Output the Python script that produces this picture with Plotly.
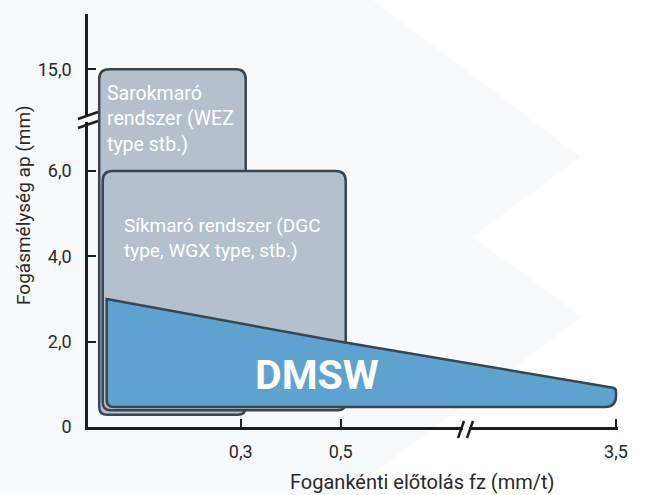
import plotly.graph_objects as go

# ---------------- data ----------------
x_ticks = [0.3, 0.5, 3.5]
x_tick_labels = ["0,3", "0,5", "3,5"]
y_ticks = [0, 2, 4, 6, 15]
y_tick_labels = ["0", "2,0", "4,0", "6,0", "15,0"]

# Sarokmaró rendszer (corner milling): fz range, ap range
sarok_fz = [0.017, 0.31]
sarok_ap = [0.29, 15.0]
# Síkmaró rendszer (face milling)
sik_fz = [0.024, 0.51]
sik_ap = [0.39, 6.0]
# DMSW region
dmsw_fz = [0.032, 0.5, 3.5]
dmsw_ap_top = [3.0, 2.0, 0.9]
dmsw_ap_bottom = 0.47

x_title = "Fogankénti előtolás fz (mm/t)"
y_title = "Fogásmélység ap (mm)"

# ---------------- broken-axis transforms ----------------
X_LIN_MAX, X_D35, X_S = 0.6, 1.0506, 0.2
Y_LIN_MAX, Y_D15, Y_S = 6.5, 8.387, 0.2


def fx(v):
    return v if v <= X_LIN_MAX else X_D35 - (3.5 - v) * X_S


def fy(v):
    return v if v <= Y_LIN_MAX else Y_D15 - (15.0 - v) * Y_S


W, H = 646, 495
L, R, T, B = 88, 618, 14, 427
X_PX = 500.0
Y_PX = 42.65
XR = [(L - 90.7) / X_PX, (R - 90.7) / X_PX]
YR = [0, (B - T) / Y_PX]


def px(p):
    return (p - L) / (R - L)


def py(p):
    return (B - p) / (B - T)


def rrect(x0, x1, y0, y1, r_top=10, r_bot=8):
    rxt, ryt = r_top / X_PX, r_top / Y_PX
    rxb, ryb = r_bot / X_PX, r_bot / Y_PX
    return (f"M {x0 + rxb},{y0} L {x1 - rxb},{y0} Q {x1},{y0} {x1},{y0 + ryb} "
            f"L {x1},{y1 - ryt} Q {x1},{y1} {x1 - rxt},{y1} "
            f"L {x0 + rxt},{y1} Q {x0},{y1} {x0},{y1 - ryt} "
            f"L {x0},{y0 + ryb} Q {x0},{y0} {x0 + rxb},{y0} Z")


GRAY = "#b4c1cd"
EDGE = "#3a4550"
BLUE = "#5ea3d0"
BG2 = "#f8f9fb"

shapes = []
# background chevron
chev = [(0, 0), (373, 0), (580, 157), (473, 237), (582, 317), (343, 495), (0, 495)]
path = "M " + " L ".join(f"{px(a)},{py(b)}" for a, b in chev) + " Z"
shapes.append(dict(type="path", xref="paper", yref="paper", path=path,
                   fillcolor=BG2, line=dict(width=0), layer="below"))

# Sarokmaró box
shapes.append(dict(type="path", xref="x", yref="y",
                   path=rrect(fx(sarok_fz[0]), fx(sarok_fz[1]), fy(sarok_ap[0]), fy(sarok_ap[1])),
                   fillcolor=GRAY, line=dict(color=EDGE, width=2.5), layer="above"))
# Síkmaró box
shapes.append(dict(type="path", xref="x", yref="y",
                   path=rrect(fx(sik_fz[0]), fx(sik_fz[1]), fy(sik_ap[0]), fy(sik_ap[1])),
                   fillcolor=GRAY, line=dict(color=EDGE, width=2.5), layer="above"))

# DMSW polygon
xs = [fx(v) for v in dmsw_fz]
ys = [fy(v) for v in dmsw_ap_top]
yb = fy(dmsw_ap_bottom)
rb_x, rb_y = 11 / X_PX, 11 / Y_PX
lb_x, lb_y = 7 / X_PX, 7 / Y_PX
tr_x, tr_y = 3 / X_PX, 3 / Y_PX
dpath = (f"M {xs[0]},{ys[0]} L {xs[1]},{ys[1]} L {xs[2] - tr_x},{ys[2] + 0.02} "
         f"Q {xs[2]},{ys[2]} {xs[2]},{ys[2] - tr_y} "
         f"L {xs[2]},{yb + rb_y} Q {xs[2]},{yb} {xs[2] - rb_x},{yb} "
         f"L {xs[0] + lb_x},{yb} Q {xs[0]},{yb} {xs[0]},{yb + lb_y} Z")
shapes.append(dict(type="path", xref="x", yref="y", path=dpath,
                   fillcolor=BLUE, line=dict(color=EDGE, width=2.5), layer="above"))

# axis break marks
AX = "#1e1e1e"
# x-axis gap + slashes
shapes.append(dict(type="rect", xref="paper", yref="paper",
                   x0=px(463), x1=px(469), y0=py(431), y1=py(423),
                   fillcolor="#ffffff", line=dict(width=0), layer="above"))
for cx in (461, 470):
    shapes.append(dict(type="line", xref="paper", yref="paper",
                       x0=px(cx - 3), y0=py(438), x1=px(cx + 3), y1=py(421),
                       line=dict(color=AX, width=2.5), layer="above"))
# y-axis gap + slashes
shapes.append(dict(type="rect", xref="paper", yref="paper",
                   x0=px(85), x1=px(91), y0=py(122), y1=py(117),
                   fillcolor=BG2, line=dict(width=0), layer="above"))
for cy in (115, 124):
    shapes.append(dict(type="line", xref="paper", yref="paper",
                       x0=px(78), y0=py(cy + 4), x1=px(98), y1=py(cy - 3),
                       line=dict(color=AX, width=2.5), layer="above"))

FONT = "Roboto"
annotations = [
    dict(text="Sarokmaró<br>rendszer (WEZ<br>type stb.)", xref="paper", yref="paper",
         x=px(105), y=py(119), xanchor="left", yanchor="middle", align="left",
         showarrow=False, font=dict(family=FONT, size=19.5, color="#ffffff")),
    dict(text="Síkmaró rendszer (DGC<br>type, WGX type, stb.)", xref="paper", yref="paper",
         x=px(122), y=py(238), xanchor="left", yanchor="middle", align="left",
         showarrow=False, font=dict(family=FONT, size=19, color="#ffffff")),
    dict(text="<b>DMSW</b>", xref="paper", yref="paper",
         x=px(317), y=py(375), xanchor="center", yanchor="middle",
         showarrow=False, font=dict(family=FONT, size=41, color="#ffffff")),
    dict(text=x_title, xref="paper", yref="paper",
         x=px(422), y=py(482), xanchor="center", yanchor="middle",
         showarrow=False, font=dict(family=FONT, size=20, color="#2a2a2a")),
    dict(text=y_title, xref="paper", yref="paper", textangle=-90,
         x=px(23), y=py(205), xanchor="center", yanchor="middle",
         showarrow=False, font=dict(family=FONT, size=19, color="#2a2a2a")),
]

fig = go.Figure()
fig.add_trace(go.Scatter(x=[fx(v) for v in x_ticks], y=[0] * len(x_ticks),
                         mode="markers", marker=dict(opacity=0), hoverinfo="skip",
                         showlegend=False))

fig.update_layout(
    width=W, height=H,
    margin=dict(l=L, r=W - R, t=T, b=H - B, pad=0),
    paper_bgcolor="#ffffff", plot_bgcolor="rgba(0,0,0,0)",
    shapes=shapes, annotations=annotations, showlegend=False,
    xaxis=dict(range=XR, showgrid=False, zeroline=False, showline=True,
               linecolor=AX, linewidth=2.5, ticks="inside", ticklen=8, tickwidth=2,
               tickcolor=AX, tickvals=[fx(v) for v in x_ticks], ticktext=x_tick_labels,
               ticklabelstandoff=7,
               tickfont=dict(family=FONT, size=18, color="#2a2a2a"), fixedrange=True),
    yaxis=dict(range=YR, showgrid=False, zeroline=False, showline=True,
               linecolor=AX, linewidth=2.5, ticks="inside", ticklen=8, tickwidth=2,
               tickcolor=AX, tickvals=[fy(v) for v in y_ticks], ticktext=y_tick_labels,
               ticklabelstandoff=10,
               tickfont=dict(family=FONT, size=18, color="#2a2a2a"), fixedrange=True),
)

fig.write_html("out.html", config={"displayModeBar": False},
               post_script="document.body.style.margin='0';document.body.style.overflow='hidden';")
